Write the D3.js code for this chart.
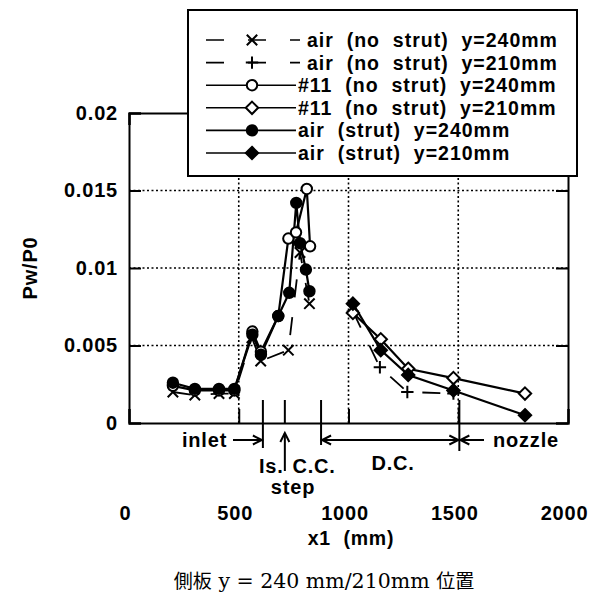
<!DOCTYPE html>
<html>
<head>
<meta charset="utf-8">
<script src="https://cdn.jsdelivr.net/npm/d3@7"></script>
<style>
body { margin: 0; background: #fff; }
text { font-family: "Liberation Sans", Arial, sans-serif; font-weight: bold; fill: #000; letter-spacing: 0.8px; white-space: pre; }
</style>
</head>
<body>
<div id="chart"></div>
<script>
// series values (x1 in mm, Pw/P0)
const xAirNoStrut240 = [200, 300, 410, 480, 560, 600, 726, 779, 822];
const yAirNoStrut240 = [0.0020, 0.0018, 0.0019, 0.0019, 0.0055, 0.0040, 0.0047, 0.0110, 0.0077];
const xAirNoStrut210 = [1020, 1143, 1268, 1478];
const yAirNoStrut210 = [0.0072, 0.0036, 0.0020, 0.0019];
const x11NoStrut240 = [200, 300, 410, 480, 562, 601, 680, 726, 761, 810, 825];
const y11NoStrut240 = [0.0024, 0.0021, 0.0021, 0.0021, 0.0059, 0.0046, 0.0069, 0.0119, 0.0123, 0.0151, 0.0114];
const x11NoStrut210 = [1020, 1147, 1272, 1478, 1804];
const y11NoStrut210 = [0.0071, 0.0054, 0.0035, 0.0029, 0.0019];
const xAirStrut240 = [200, 300, 410, 480, 562, 601, 680, 730, 762, 779, 806, 822];
const yAirStrut240 = [0.0026, 0.0022, 0.0022, 0.0022, 0.0057, 0.0044, 0.0069, 0.0084, 0.0142, 0.0116, 0.0099, 0.0085];
const xAirStrut210 = [1020, 1147, 1272, 1478, 1804];
const yAirStrut210 = [0.0077, 0.0047, 0.0031, 0.0021, 0.0005];

const seriesNames = [
  "air  (no  strut)  y=240mm",
  "air  (no  strut)  y=210mm",
  "#11  (no  strut)  y=240mm",
  "#11  (no  strut)  y=210mm",
  "air  (strut)  y=240mm",
  "air  (strut)  y=210mm"
];

const xTicks = [0, 500, 1000, 1500, 2000];
const yTicks = [0, 0.005, 0.01, 0.015, 0.02];
const yTickLabels = ["0", "0.005", "0.01", "0.015", "0.02"];
const xGrid = [500, 1000, 1500];
const yGrid = [0.005, 0.01, 0.015];

// section marks along x1 (mm)
const inletEnd = 610, stepPos = 710, ccPos = 875, nozzlePos = 1505;

const W = 602, H = 599;
const svg = d3.select("#chart").append("svg")
  .attr("width", W).attr("height", H);

const x = d3.scaleLinear().domain([0, 2000]).range([129, 568]);
const y = d3.scaleLinear().domain([0, 0.02]).range([423, 113]);

// dotted grid
svg.append("g").selectAll("line").data(yGrid).enter().append("line")
  .attr("x1", x(0)).attr("x2", x(2000))
  .attr("y1", d => y(d)).attr("y2", d => y(d))
  .attr("stroke", "#000").attr("stroke-width", 1.6).attr("stroke-dasharray", "2,2.5");
svg.append("g").selectAll("line").data(xGrid).enter().append("line")
  .attr("x1", d => x(d)).attr("x2", d => x(d))
  .attr("y1", y(0)).attr("y2", y(0.02))
  .attr("stroke", "#000").attr("stroke-width", 1.6).attr("stroke-dasharray", "2,2.5");

// axes (ticks inside)
svg.append("g")
  .attr("transform", `translate(${x(0)},0)`)
  .call(d3.axisLeft(y).tickValues(yTicks).tickSize(-12).tickPadding(11)
    .tickFormat((d, i) => yTickLabels[i]))
  .call(g => g.select(".domain").attr("stroke-width", 2))
  .call(g => g.selectAll(".tick line").attr("stroke-width", 2))
  .call(g => g.selectAll("text").attr("font-size", 20).attr("font-family", null));

svg.append("g")
  .attr("transform", `translate(${x(2000)},0)`)
  .call(d3.axisRight(y).tickValues(yTicks).tickSize(-12).tickFormat(""))
  .call(g => g.select(".domain").attr("stroke-width", 2))
  .call(g => g.selectAll(".tick line").attr("stroke-width", 2));

svg.append("g")
  .attr("transform", `translate(0,${y(0)})`)
  .call(d3.axisBottom(x).tickValues(xTicks).tickSize(-14).tickPadding(83).tickFormat(d3.format("d")))
  .call(g => g.select(".domain").attr("stroke-width", 2))
  .call(g => g.selectAll(".tick line").attr("stroke-width", 2))
  .call(g => g.selectAll("text").attr("font-size", 20).attr("font-family", null).attr("dx", -4));

svg.append("g")
  .attr("transform", `translate(0,${y(0.02)})`)
  .call(d3.axisTop(x).tickValues(xTicks).tickSize(-12).tickFormat(""))
  .call(g => g.select(".domain").attr("stroke-width", 2))
  .call(g => g.selectAll(".tick line").attr("stroke-width", 2));

// axis titles
svg.append("text")
  .attr("x", 351).attr("y", 545)
  .attr("text-anchor", "middle").attr("font-size", 19.5)
  .text("x1  (mm)");

svg.append("text")
  .attr("transform", "translate(37,268) rotate(-90)")
  .attr("text-anchor", "middle").attr("font-size", 20)
  .text("Pw/P0");

// caption
const cap = svg.append("text")
  .attr("x", 324).attr("y", 588)
  .attr("text-anchor", "middle")
  .style("font-weight", "normal").style("letter-spacing", "0px");
cap.append("tspan").style("font-family", "'Noto Sans CJK JP'").attr("font-size", 19).text("側板");
cap.append("tspan").style("font-family", "'DejaVu Serif', serif").attr("font-size", 20.5).text(" y = 240 mm/210mm ");
cap.append("tspan").style("font-family", "'Noto Sans CJK JP'").attr("font-size", 19).text("位置");

// section annotations
const ann = svg.append("g").attr("stroke", "#000").attr("stroke-width", 2).attr("fill", "none");
const y0 = y(0);
const arrowY = 440;
function head(g, px, py, dir) {
  // dir: "r", "l", "u"
  const a = 9, b = 4.5;
  let p;
  if (dir === "r") p = [[px - a, py - b], [px, py], [px - a, py + b]];
  else if (dir === "l") p = [[px + a, py - b], [px, py], [px + a, py + b]];
  else p = [[px - b, py + a], [px, py], [px + b, py + a]];
  g.append("path").attr("d", d3.line()(p));
}
// inlet
ann.append("line").attr("x1", x(inletEnd)).attr("x2", x(inletEnd)).attr("y1", y0 - 23).attr("y2", y0 + 25);
ann.append("line").attr("x1", 233).attr("x2", x(inletEnd) - 1).attr("y1", arrowY).attr("y2", arrowY);
head(ann, x(inletEnd) - 1, arrowY, "r");
// step
ann.append("line").attr("x1", x(stepPos)).attr("x2", x(stepPos)).attr("y1", y0 - 23).attr("y2", y0);
ann.append("line").attr("x1", x(stepPos)).attr("x2", x(stepPos)).attr("y1", y0 + 10).attr("y2", y0 + 48);
head(ann, x(stepPos), y0 + 10, "u");
// C.C. / D.C.
ann.append("line").attr("x1", x(ccPos)).attr("x2", x(ccPos)).attr("y1", y0 - 23).attr("y2", y0 + 22);
ann.append("line").attr("x1", x(ccPos) + 1).attr("x2", x(nozzlePos) - 1).attr("y1", arrowY).attr("y2", arrowY);
head(ann, x(ccPos) + 1, arrowY, "l");
head(ann, x(nozzlePos) - 1, arrowY, "r");
// nozzle
ann.append("line").attr("x1", x(nozzlePos)).attr("x2", x(nozzlePos)).attr("y1", y0 - 23).attr("y2", y0 + 28);
ann.append("line").attr("x1", x(nozzlePos) + 1).attr("x2", 484).attr("y1", arrowY).attr("y2", arrowY);
head(ann, x(nozzlePos) + 1, arrowY, "l");

const annText = [
  { t: "inlet", x: 182, y: 447, a: "start" },
  { t: "Is.", x: 259, y: 473, a: "start" },
  { t: "step", x: 293, y: 494, a: "middle" },
  { t: "C.C.", x: 314, y: 473, a: "middle" },
  { t: "D.C.", x: 393, y: 470, a: "middle" },
  { t: "nozzle", x: 493, y: 447, a: "start" }
];
svg.append("g").selectAll("text").data(annText).enter().append("text")
  .attr("x", d => d.x).attr("y", d => d.y)
  .attr("text-anchor", d => d.a).attr("font-size", 20)
  .text(d => d.t);

// marker shapes
const R = 5.2;
const shapes = {
  cross: s => `M${-s},${-s}L${s},${s}M${-s},${s}L${s},${-s}`,
  plus: s => `M${-s - 1},0H${s + 1}M0,${-s - 1}V${s + 1}`,
  diamond: s => `M0,${-s - 1}L${s + 1},0L0,${s + 1}L${-s - 1},0Z`
};

const series = [
  { name: seriesNames[0], xs: xAirNoStrut240, ys: yAirNoStrut240, mark: "cross", fill: "none", dash: true },
  { name: seriesNames[1], xs: xAirNoStrut210, ys: yAirNoStrut210, mark: "plus", fill: "none", dash: true },
  { name: seriesNames[2], xs: x11NoStrut240, ys: y11NoStrut240, mark: "circle", fill: "#fff", dash: false },
  { name: seriesNames[3], xs: x11NoStrut210, ys: y11NoStrut210, mark: "diamond", fill: "#fff", dash: false },
  { name: seriesNames[4], xs: xAirStrut240, ys: yAirStrut240, mark: "circle", fill: "#000", dash: false },
  { name: seriesNames[5], xs: xAirStrut210, ys: yAirStrut210, mark: "diamond", fill: "#000", dash: false }
];

function drawMark(g, s, px, py) {
  if (s.mark === "circle") {
    g.append("circle").attr("cx", px).attr("cy", py).attr("r", R)
      .attr("fill", s.fill).attr("stroke", "#000").attr("stroke-width", 2);
  } else {
    g.append("path").attr("transform", `translate(${px},${py})`)
      .attr("d", shapes[s.mark](R))
      .attr("fill", s.fill).attr("stroke", "#000").attr("stroke-width", 2);
  }
}

const line = d3.line().x(d => x(d[0])).y(d => y(d[1]));
const plot = svg.append("g");
series.forEach(s => {
  const pts = s.xs.map((v, i) => [v, s.ys[i]]);
  plot.append("path").datum(pts)
    .attr("d", line)
    .attr("fill", "none").attr("stroke", "#000")
    .attr("stroke-width", s.dash ? 1.8 : 2.2)
    .attr("stroke-dasharray", s.dash ? "18,20" : null);
});
series.forEach(s => {
  s.xs.forEach((v, i) => drawMark(plot, s, x(v), y(s.ys[i])));
});

// legend
const lg = svg.append("g");
lg.append("rect").attr("x", 188).attr("y", 10).attr("width", 389).attr("height", 166)
  .attr("fill", "#fff").attr("stroke", "#000").attr("stroke-width", 2);
series.forEach((s, i) => {
  const cy = 40 + i * 22.6;
  lg.append("line").attr("x1", 206).attr("x2", s.dash ? 300 : 296)
    .attr("y1", cy).attr("y2", cy)
    .attr("stroke", "#000").attr("stroke-width", 1.6)
    .attr("stroke-dasharray", s.dash ? "18,24" : null);
  drawMark(lg, s, 252, cy);
  lg.append("text").attr("x", s.dash ? 307 : 298).attr("y", cy + 7)
    .attr("font-size", 19.5).style("letter-spacing", "1px")
    .text(s.name);
});
</script>
</body>
</html>
